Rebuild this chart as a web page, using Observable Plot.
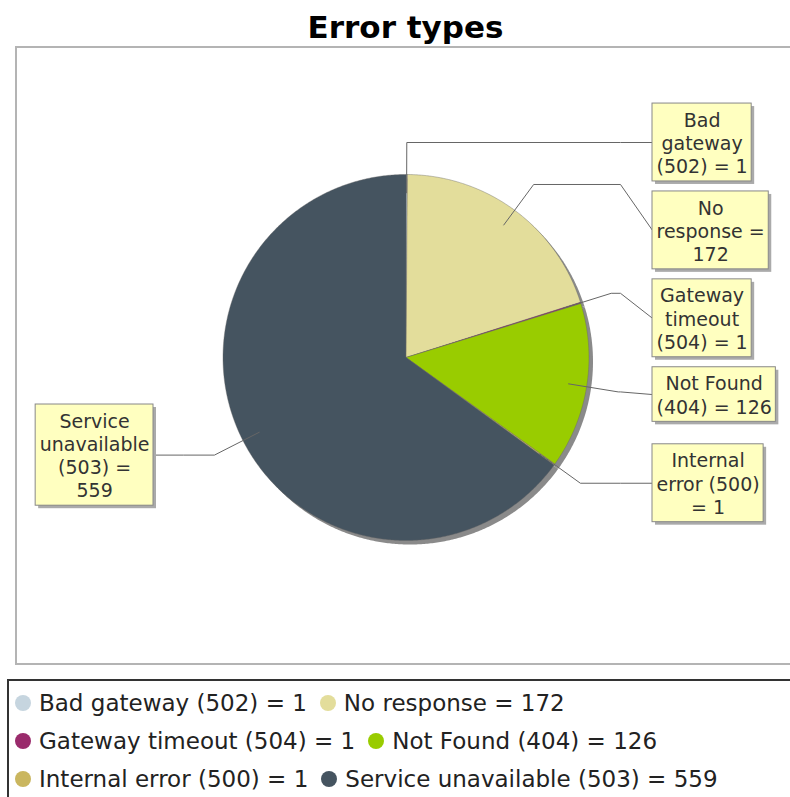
<!DOCTYPE html>
<html><head><meta charset="utf-8">
<script src="https://cdn.jsdelivr.net/npm/d3@7"></script>
<script src="https://cdn.jsdelivr.net/npm/@observablehq/plot@0.6"></script>
<style>
html,body{margin:0;padding:0;background:#fff;}
body{position:relative;width:790px;height:797px;overflow:hidden;font-family:"DejaVu Sans",sans-serif;}
#title{position:absolute;left:0;top:9px;width:811px;text-align:center;font-weight:bold;font-size:31px;line-height:36px;color:#000;}
#frame{position:absolute;left:15px;top:46px;width:800px;height:619px;border:2px solid #b4b4b4;box-sizing:border-box;}
#chart{position:absolute;left:0;top:46px;}
#legend{position:absolute;left:7px;top:679px;width:820px;height:140px;border:2px solid #333;box-sizing:border-box;padding:3px 0 0 6px;font-size:23px;color:#222;}
.row{height:38px;white-space:nowrap;display:flex;align-items:center;}
.item{display:inline-flex;align-items:center;margin-right:13px;}
.sw{width:16px;height:16px;border-radius:50%;margin-right:8px;flex:none;}
</style></head><body>
<div id="title">Error types</div>
<div id="frame"></div>
<div id="chart"></div>
<div id="legend"></div>
<script>
const names = ["Bad gateway (502)","No response","Gateway timeout (504)","Not Found (404)","Internal error (500)","Service unavailable (503)"];
const values = [1,172,1,126,1,559];
const colors = ["#c6d5df","#e3dd9b","#9a2b6c","#99cc00","#cab65f","#455460"];
const labelLines = [["Bad","gateway","(502) = 1"],["No","response =","172"],["Gateway","timeout","(504) = 1"],["Not Found","(404) = 126"],["Internal","error (500)","= 1"],["Service","unavailable","(503) =","559"]];

const W=790,H=628,R=183,CX=405.5,CY=311;
const u = v => v/R;
const arcs = d3.pie().sort(null).value(d=>d)(values);
const pt = (a,r)=>[r*Math.sin(a), -r*Math.cos(a)];

const slicePts = [];
arcs.forEach((a,i)=>{
  const n = Math.max(2, Math.ceil((a.endAngle-a.startAngle)/(Math.PI/360)));
  slicePts.push({name:names[i], x:0, y:0});
  for(let k=0;k<=n;k++){
    const t = a.startAngle + (a.endAngle-a.startAngle)*k/n;
    const [x,y]=pt(t,1);
    slicePts.push({name:names[i],x,y});
  }
});

const FONT=19, LH=23.3, PADX=4, PADY=4, GAP=10;
const ctx = document.createElement("canvas").getContext("2d");
ctx.font = `${FONT}px "DejaVu Sans"`;
const labels = arcs.map((a,i)=>{
  const mid=(a.startAngle+a.endAngle)/2;
  const right = Math.sin(mid) >= 0;
  const lines = labelLines[i];
  const w = u(Math.max(...lines.map(s=>ctx.measureText(s).width)) + 2*PADX);
  const h = u(lines.length*LH + 2*PADY);
  const [ex,ey] = pt(mid, u(215));
  const [sx,sy] = pt(mid, 0.9);
  return {name:names[i], lines, mid, right, w, h, ex, ey, sx, sy, cy:ey};
});
for (const side of [true,false]) {
  const L = labels.filter(d=>d.right===side).sort((a,b)=>a.ey-b.ey);
  let bottom = -Infinity;
  for (const d of L) {
    const top = Math.max(d.ey - d.h/2, bottom + u(GAP));
    d.cy = top + d.h/2; bottom = top + d.h;
  }
}
labels.forEach(d=>{
  if (d.right){ d.x1=u(652-CX); d.x2=d.x1+d.w; d.link=Math.max(u(620-CX), d.ex); d.edge=d.x1; }
  else { d.x2=u(153-CX); d.x1=d.x2-d.w; d.link=Math.min(u(183-CX), d.ex); d.edge=d.x2; }
  d.y1=d.cy-d.h/2; d.y2=d.cy+d.h/2; d.tx=(d.x1+d.x2)/2;
});
const leaders = labels.flatMap(d=>[
  {name:d.name,x:d.sx,y:d.sy},{name:d.name,x:d.ex,y:d.ey},
  {name:d.name,x:d.link,y:d.ey},{name:d.name,x:d.edge,y:d.cy}]);

const chart = Plot.plot({
  width:W, height:H, margin:0,
  x:{domain:[u(-CX), u(W-CX)], range:[0,W], axis:null},
  y:{domain:[u(-CY), u(H-CY)], range:[0,H], axis:null},
  color:{domain:names, range:colors},
  style:{background:"transparent", overflow:"visible", fontFamily:"DejaVu Sans"},
  marks:[
    Plot.line(slicePts,{x:"x",y:"y",z:"name",fill:"#8a8a8a",stroke:"none",dx:4,dy:4,curve:"linear-closed"}),
    Plot.line(slicePts,{x:"x",y:"y",z:"name",fill:"name",stroke:"#666",strokeWidth:0.4,curve:"linear-closed"}),
    Plot.line(leaders,{x:"x",y:"y",z:"name",stroke:"#666",strokeWidth:1}),
    Plot.rect(labels,{x1:"x1",x2:"x2",y1:"y1",y2:"y2",fill:"#aaaaaa",dx:3,dy:3}),
    Plot.rect(labels,{x1:"x1",x2:"x2",y1:"y1",y2:"y2",fill:"#ffffc0",stroke:"#888",strokeWidth:1}),
    Plot.text(labels,{x:"tx",y:"cy",text:d=>d.lines.join("\n"),fontSize:FONT,lineHeight:LH/FONT,fill:"#333",fontFamily:"DejaVu Sans"})
  ]
});
document.getElementById("chart").appendChild(chart);

const legend = document.getElementById("legend");
for (let r=0; r<names.length; r+=2){
  const row = document.createElement("div"); row.className="row";
  for (let i=r; i<Math.min(r+2,names.length); i++){
    const item=document.createElement("span"); item.className="item";
    const sw=document.createElement("span"); sw.className="sw"; sw.style.background=colors[i];
    const tx=document.createElement("span"); tx.textContent=`${names[i]} = ${values[i]}`;
    item.appendChild(sw); item.appendChild(tx); row.appendChild(item);
  }
  legend.appendChild(row);
}
</script>
</body></html>
